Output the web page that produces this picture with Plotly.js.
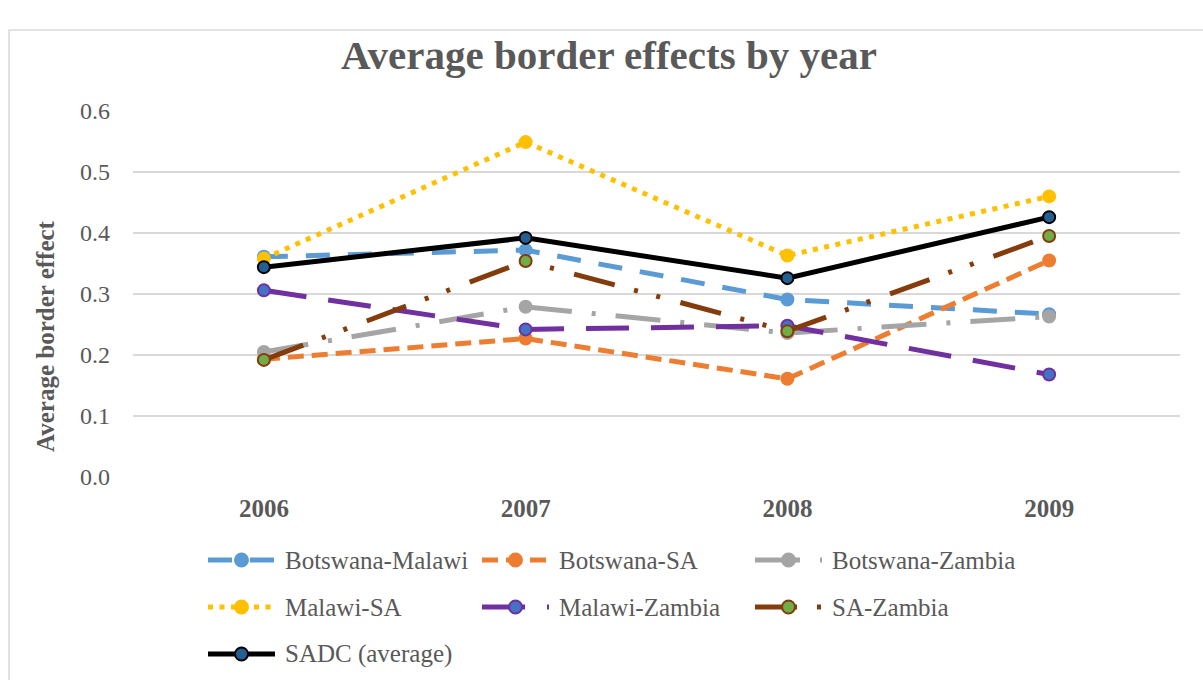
<!DOCTYPE html>
<html>
<head>
<meta charset="utf-8">
<script src="https://cdn.plot.ly/plotly-3.0.1.min.js"></script>
<style>
  html, body { margin: 0; padding: 0; background: #ffffff; }
  #chart { width: 1203px; height: 680px; }
</style>
</head>
<body>
<div id="chart"></div>
<script>
// Years on the category axis
const years = ['2006', '2007', '2008', '2009'];

// Average border effect per country pair
const botswanaMalawi = [0.361, 0.372, 0.291, 0.267];
const botswanaSA     = [0.193, 0.227, 0.161, 0.355];
const botswanaZambia = [0.205, 0.279, 0.236, 0.263];
const malawiSA       = [0.358, 0.549, 0.363, 0.460];
const malawiZambia   = [0.306, 0.242, 0.248, 0.168];
const saZambia       = [0.192, 0.354, 0.239, 0.395];
const sadcAverage    = [0.344, 0.392, 0.326, 0.426];

const seriesNames = ['Botswana-Malawi', 'Botswana-SA', 'Botswana-Zambia',
                     'Malawi-SA', 'Malawi-Zambia', 'SA-Zambia', 'SADC (average)'];
const seriesValues = [botswanaMalawi, botswanaSA, botswanaZambia,
                      malawiSA, malawiZambia, saZambia, sadcAverage];

// Line / marker styling per series
const styles = [
  {line: '#5b9bd5', fill: '#5b9bd5', edge: '#5b9bd5', dash: '24px,18px'},
  {line: '#ed7d31', fill: '#ed7d31', edge: '#ed7d31', dash: '16px,8px'},
  {line: '#a5a5a5', fill: '#a5a5a5', edge: '#a5a5a5', dash: '45px,20px,4px,20px'},
  {line: '#ffc000', fill: '#ffc000', edge: '#ffc000', dash: '5px,6.5px'},
  {line: '#7030a0', fill: '#4472c4', edge: '#7030a0', dash: '43px,22px'},
  {line: '#843c0c', fill: '#70ad47', edge: '#843c0c', dash: '42px,20px,4px,19px,4px,21px'},
  {line: '#000000', fill: '#255e91', edge: '#000000', dash: 'solid'}
];

const FONT = 'Liberation Serif, Times New Roman, serif';
const TEXT = '#595959';

const traces = seriesNames.map((name, i) => ({
  type: 'scatter',
  mode: 'lines+markers',
  name: name,
  x: years,
  y: seriesValues[i],
  line: {color: styles[i].line, width: 5, dash: styles[i].dash},
  marker: {symbol: 'circle', size: 12, color: styles[i].fill,
           line: {color: styles[i].edge, width: 2}},
  showlegend: false,
  hoverinfo: 'x+y+name'
}));

// Plot area geometry (pixels) used to place the custom legend and frame
const W = 1203, H = 680;
const M = {l: 133, r: 23, t: 111, b: 203};
const pw = W - M.l - M.r, ph = H - M.t - M.b;
const px = v => (v - M.l) / pw;
const py = v => (H - M.b - v) / ph;

const shapes = [];
const annotations = [];

// Outer chart frame
shapes.push({type: 'rect', xref: 'paper', yref: 'paper',
  x0: px(9), x1: px(1220), y0: py(700), y1: py(30),
  line: {color: '#d9d9d9', width: 1.5}, fillcolor: 'rgba(0,0,0,0)', layer: 'below'});

// Legend: three columns, three rows
const colX = [208, 482, 755];
const rowY = [560, 607, 654];
const sampleLen = 67;
seriesNames.forEach((name, i) => {
  const c = i % 3, r = Math.floor(i / 3);
  const x0 = colX[c], y = rowY[r];
  shapes.push({type: 'line', xref: 'paper', yref: 'paper',
    x0: px(x0), x1: px(x0 + sampleLen), y0: py(y), y1: py(y),
    line: {color: styles[i].line, width: 5, dash: styles[i].dash}});
  const cx = px(x0 + 33.5), cy = py(y);
  shapes.push({type: 'circle', xref: 'paper', yref: 'paper',
    xsizemode: 'pixel', ysizemode: 'pixel', xanchor: cx, yanchor: cy,
    x0: -6.5, x1: 6.5, y0: -6.5, y1: 6.5,
    fillcolor: styles[i].fill, line: {color: styles[i].edge, width: 2}});
  annotations.push({xref: 'paper', yref: 'paper', x: px(x0 + sampleLen + 8), y: py(y),
    xanchor: 'left', yanchor: 'middle', showarrow: false, text: name,
    font: {family: FONT, size: 25, color: TEXT}});
});

// Chart title
annotations.push({xref: 'paper', yref: 'paper', x: px(609), y: py(55),
  xanchor: 'center', yanchor: 'middle', showarrow: false,
  text: 'Average border effects by year',
  font: {family: FONT, size: 41, color: TEXT, weight: 'bold'}});

// Vertical axis title
annotations.push({xref: 'paper', yref: 'paper', x: px(45), y: py(336),
  xanchor: 'center', yanchor: 'middle', showarrow: false, textangle: -90,
  text: 'Average border effect',
  font: {family: FONT, size: 25, color: TEXT, weight: 'bold'}});

const layout = {
  width: W, height: H,
  margin: M,
  paper_bgcolor: '#ffffff',
  plot_bgcolor: '#ffffff',
  showlegend: false,
  xaxis: {
    type: 'category', range: [-0.5, 3.5],
    showgrid: false, zeroline: false, showline: false, ticks: '',
    ticklabelstandoff: 14,
    tickfont: {family: FONT, size: 25, color: TEXT, weight: 'bold'}
  },
  yaxis: {
    range: [0, 0.6], dtick: 0.1, tick0: 0, tickformat: '.1f',
    showgrid: true, gridcolor: '#d9d9d9', gridwidth: 1.5,
    zeroline: false, showline: false, ticks: '',
    ticklabelstandoff: 22,
    tickfont: {family: FONT, size: 24, color: TEXT}
  },
  shapes: shapes,
  annotations: annotations
};

Plotly.newPlot('chart', traces, layout, {displayModeBar: false, staticPlot: true});
</script>
</body>
</html>
